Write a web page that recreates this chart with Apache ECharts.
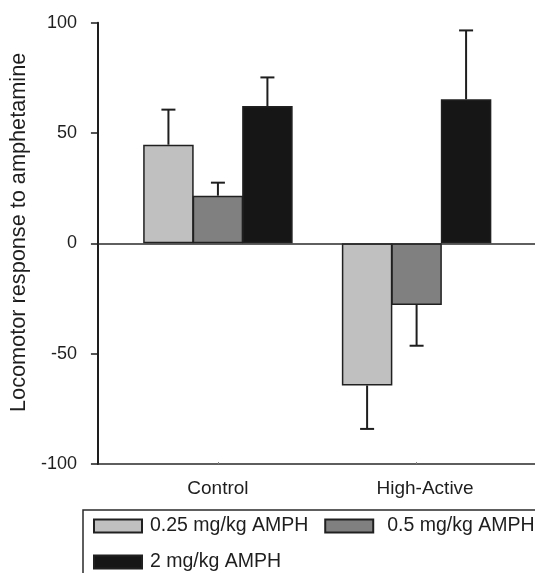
<!DOCTYPE html>
<html>
<head>
<meta charset="utf-8">
<script src="https://cdn.jsdelivr.net/npm/echarts@6/dist/echarts.min.js"></script>
<style>
  html, body { margin: 0; padding: 0; background: #fff; }
  #chart { width: 535px; height: 573px; }
</style>
</head>
<body>
<div id="chart"></div>
<script>
// Groups along the x axis
const groups = ['Control', 'High-Active'];
// Amphetamine doses (one bar series each)
const doses = ['0.25 mg/kg AMPH', '0.5 mg/kg AMPH', '2 mg/kg AMPH'];
// Mean locomotor response per dose, one entry per group
const mean025 = [44.7, -64.4];
const mean05 = [21.6, -27.9];
const mean2 = [62.2, 65.3];
// Standard error per dose, one entry per group
const sem025 = [15.9, 19.7];
const sem05 = [5.9, 18.5];
const sem2 = [13.0, 31.2];
// Y axis ticks
const yTicks = [-100, -50, 0, 50, 100];

const means = [mean025, mean05, mean2];
const sems = [sem025, sem05, sem2];
const colors = ['#c0c0c0', '#808080', '#161616'];
const BAR_W = 50.5;
const BAR_GAP = -0.02;
const FONT = '"Liberation Sans", Arial, Helvetica, sans-serif';
const INK = '#1e1e1e';

const barSeries = doses.map((name, d) => ({
  name: name,
  type: 'bar',
  barWidth: BAR_W,
  barGap: (BAR_GAP * 100) + '%',
  itemStyle: { color: colors[d], borderColor: '#202020', borderWidth: 1.5 },
  data: groups.map((g, i) => [i, means[d][i]]),
  z: 2
}));

// Error bars: drawn away from zero, from bar end to mean +/- SEM
const errData = [];
doses.forEach((name, d) => {
  groups.forEach((g, i) => {
    errData.push([i, means[d][i], sems[d][i], d]);
  });
});

const errorSeries = {
  type: 'custom',
  name: 'sem',
  data: errData,
  z: 5,
  renderItem: function (params, api) {
    const x = api.value(0);
    const m = api.value(1);
    const e = api.value(2);
    const d = api.value(3);
    const tip = m >= 0 ? m + e : m - e;
    const p0 = api.coord([x, m]);
    const p1 = api.coord([x, tip]);
    const cx = p0[0] + (d - 1) * BAR_W * (1 + BAR_GAP);
    const half = 7;
    const style = { stroke: INK, lineWidth: 2 };
    return {
      type: 'group',
      children: [
        { type: 'line', shape: { x1: cx, y1: p0[1], x2: cx, y2: p1[1] }, style: style },
        { type: 'line', shape: { x1: cx - half, y1: p1[1], x2: cx + half, y2: p1[1] }, style: style }
      ]
    };
  }
};

// Zero reference line across the plot
barSeries[0].markLine = {
  silent: true,
  symbol: ['none', 'none'],
  label: { show: false },
  lineStyle: { color: '#2a2a2a', width: 1.5, type: 'solid' },
  data: [{ yAxis: 0 }]
};

const chart = echarts.init(document.getElementById('chart'), null, { renderer: 'canvas' });

chart.setOption({
  animation: false,
  backgroundColor: '#ffffff',
  textStyle: { fontFamily: FONT, color: INK },
  grid: { left: 93.5, top: 22.7, bottom: 109, right: 0, containLabel: false },
  xAxis: {
    type: 'value',
    min: -0.604,
    max: 1.596,
    splitLine: { show: false },
    axisLine: { show: true, onZero: false, lineStyle: { color: '#2a2a2a', width: 1.6 } },
    axisTick: { show: true, customValues: [0, 1], length: 2, inside: true, lineStyle: { color: '#888', width: 1 } },
    axisLabel: {
      show: true,
      customValues: [0, 1],
      margin: 15,
      fontSize: 19,
      fontFamily: FONT,
      color: INK,
      formatter: function (v) {
        const i = Math.round(v);
        return i === 1 ? '{h|' + groups[i] + '}' : groups[i];
      },
      rich: { h: { fontSize: 19, fontFamily: FONT, color: INK, padding: [0, 0, 0, 17] } }
    }
  },
  yAxis: {
    type: 'value',
    min: yTicks[0],
    max: yTicks[yTicks.length - 1],
    interval: 50,
    name: 'Locomotor response to amphetamine',
    nameLocation: 'middle',
    nameGap: 64,
    nameTextStyle: { fontSize: 21.7, fontFamily: FONT, color: INK, padding: [0, 0, 0, 22] },
    splitLine: { show: false },
    axisLine: { show: true, onZero: false, lineStyle: { color: '#1e1e1e', width: 2 } },
    axisTick: { show: true, length: 7, lineStyle: { color: '#1e1e1e', width: 1.5 } },
    axisLabel: { margin: 21, fontSize: 18, fontFamily: FONT, color: INK }
  },
  legend: {
    left: 83,
    top: 510,
    width: 445,
    orient: 'horizontal',
    padding: [6, 60, 40, 10],
    itemWidth: 48,
    itemHeight: 13,
    itemGap: 16,
    icon: 'rect',
    borderColor: '#2a2a2a',
    borderWidth: 1.5,
    textStyle: { fontSize: 19.5, fontFamily: FONT, color: INK, lineHeight: 17 },
    data: [
      { name: doses[0], textStyle: { padding: [0, 0, 0, 3] } },
      { name: doses[1], textStyle: { padding: [0, 0, 0, 9] } },
      { name: doses[2], textStyle: { padding: [0, 0, 0, 3] } }
    ]
  },
  series: barSeries.concat([errorSeries])
});
</script>
</body>
</html>
